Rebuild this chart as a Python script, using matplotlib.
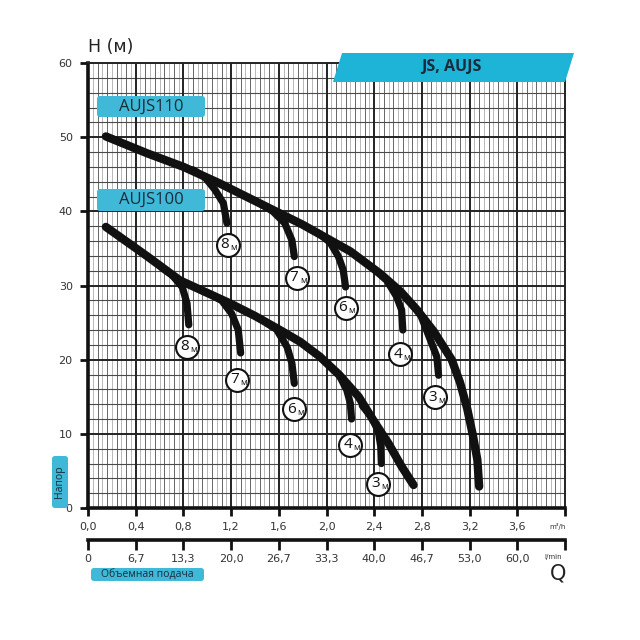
import matplotlib
matplotlib.use("Agg")
import matplotlib.pyplot as plt
import numpy as np
from matplotlib.patches import FancyBboxPatch, Polygon

# ---- data ----
q_ticks = [0.0, 0.4, 0.8, 1.2, 1.6, 2.0, 2.4, 2.8, 3.2, 3.6, 4.0]
q_m3h_labels = ["0,0", "0,4", "0,8", "1,2", "1,6", "2,0", "2,4", "2,8", "3,2", "3,6", ""]
q_lmin_labels = ["0", "6,7", "13,3", "20,0", "26,7", "33,3", "40,0", "46,7", "53,0", "60,0", ""]
h_ticks = [0, 10, 20, 30, 40, 50, 60]

aujs110_q = [0.15, 0.5, 0.8, 1.1, 1.4, 1.6, 1.8, 2.0, 2.2, 2.45, 2.62, 2.76, 2.9,
             3.05, 3.12, 3.18, 3.23, 3.265, 3.28]
aujs110_h = [50.1, 47.8, 46.0, 43.8, 41.4, 39.8, 38.2, 36.4, 34.6, 31.6, 29.2, 26.7, 23.8,
             20.0, 16.9, 13.4, 9.6, 6.5, 2.9]

aujs100_q = [0.15, 0.5, 0.77, 1.0, 1.19, 1.4, 1.61, 1.78, 1.945, 2.11, 2.27, 2.39, 2.52, 2.63, 2.73]
aujs100_h = [37.9, 33.9, 30.7, 29.0, 27.6, 25.9, 24.0, 22.4, 20.4, 17.9, 15.0, 11.9, 8.7, 5.6, 3.1]

# suction depth branches
depth_labels = ["8", "7", "6", "4", "3"]
branch110_q = [[0.88, 0.98, 1.065, 1.135, 1.165],
               [1.45, 1.55, 1.65, 1.71, 1.73],
               [1.93, 2.03, 2.10, 2.14, 2.16],
               [2.40, 2.505, 2.588, 2.63, 2.64],
               [2.70, 2.79, 2.87, 2.925, 2.94]]
branch110_h = [[45.6, 44.6, 42.9, 41.1, 38.4],
               [41.0, 40.0, 38.4, 36.1, 33.9],
               [37.1, 35.8, 33.9, 32.1, 29.8],
               [32.2, 30.7, 28.5, 26.7, 24.0],
               [27.8, 26.0, 22.7, 20.4, 17.9]]
label110_q = [1.17, 1.75, 2.16, 2.62, 2.91]
label110_h = [35.5, 31.0, 27.0, 20.7, 14.9]

branch100_q = [[0.62, 0.70, 0.79, 0.83, 0.845],
               [1.03, 1.12, 1.205, 1.26, 1.28],
               [1.50, 1.58, 1.67, 1.71, 1.73],
               [2.00, 2.10, 2.17, 2.20, 2.21],
               [2.30, 2.38, 2.435, 2.455, 2.46]]
branch100_h = [[32.4, 31.5, 29.8, 27.6, 24.7],
               [28.8, 28.0, 26.2, 24.0, 20.9],
               [24.9, 24.1, 21.7, 19.5, 16.8],
               [19.6, 18.1, 15.9, 14.1, 12.0],
               [13.8, 12.2, 10.3, 8.3, 6.0]]
label100_q = [0.83, 1.25, 1.73, 2.20, 2.435]
label100_h = [21.7, 17.3, 13.3, 8.5, 3.3]

CYAN = "#3fb9d7"
BANNER = "#1db4d7"
NAVY = "#1b2b3c"
INK = "#111111"

W = H = 640.0


def fx(px):
    return px / W


def fy(py):
    return 1 - py / H


fig = plt.figure(figsize=(6.4, 6.4), dpi=100)
fig.patch.set_facecolor("white")
ax = fig.add_axes([fx(88), fy(508), fx(565) - fx(88), fy(63) - fy(508)])
ax.set_xlim(0, 4.0)
ax.set_ylim(0, 60)

# graph-paper grid
for i, q in enumerate(np.arange(0.04, 4.0, 0.04)):
    if i % 10 == 9:
        continue
    c = "#666666" if i % 2 == 1 else "#b8b8b8"
    ax.axvline(q, color=c, lw=0.7, zorder=1)
for h in np.arange(2, 60, 2):
    if h % 10 != 0:
        ax.axhline(h, color="#4a4a4a", lw=0.8, zorder=1)
for q in q_ticks[1:-1]:
    ax.axvline(q, color="#222222", lw=1.4, zorder=2)
for h in h_ticks[1:-1]:
    ax.axhline(h, color="#222222", lw=1.4, zorder=2)

for s in ["top", "right"]:
    ax.spines[s].set_linewidth(1.4)
    ax.spines[s].set_color("#222222")
ax.spines["left"].set_linewidth(2.6)
ax.spines["bottom"].set_linewidth(2.6)
ax.spines["left"].set_color(INK)
ax.spines["bottom"].set_color(INK)

ax.set_xticks(q_ticks)
ax.set_xticklabels(q_m3h_labels)
ax.set_yticks(h_ticks)
ax.set_yticklabels([str(h) for h in h_ticks])
ax.tick_params(axis="both", direction="out", length=6, width=2, color=INK,
               labelsize=8, labelcolor="#333333")
ax.tick_params(axis="x", pad=4)
ax.tick_params(axis="y", pad=5)

line_kw = dict(color=INK, solid_capstyle="round", solid_joinstyle="round", zorder=5)
ax.plot(aujs110_q, aujs110_h, lw=6, **line_kw)
ax.plot(aujs100_q, aujs100_h, lw=6, **line_kw)
for bq, bh in zip(branch110_q + branch100_q, branch110_h + branch100_h):
    ax.plot(bq, bh, lw=5.2, **line_kw)

for lq, lh, lab in zip(label110_q + label100_q, label110_h + label100_h, depth_labels * 2):
    ax.plot(lq, lh, marker="o", ms=16.5, mfc="white", mec=INK, mew=1.5, zorder=7)
    ax.annotate(lab, (lq, lh), xytext=(-2.0, 0.2), textcoords="offset points",
                ha="center", va="center", fontsize=11, color=INK,
                family="Open Sans", zorder=8)
    ax.annotate("м", (lq, lh), xytext=(4.6, -2.0), textcoords="offset points",
                ha="center", va="center", fontsize=6.5, color=INK,
                family="Open Sans", zorder=8)

# second flow axis in l/min
ax2 = fig.add_axes([fx(88), fy(540), fx(565) - fx(88), 0.0001])
ax2.set_xlim(0, 4.0)
for s in ["top", "left", "right"]:
    ax2.spines[s].set_visible(False)
ax2.spines["bottom"].set_linewidth(2.6)
ax2.spines["bottom"].set_color(INK)
ax2.set_yticks([])
ax2.set_xticks(q_ticks)
ax2.set_xticklabels(q_lmin_labels)
ax2.tick_params(axis="x", direction="out", length=7, width=2, color=INK,
                labelsize=8, labelcolor="#333333", pad=3)
ax2.patch.set_visible(False)

fig.text(fx(566), fy(527), "m³/h", ha="right", va="center", fontsize=5, color="#333333")
fig.text(fx(562), fy(557), "l/min", ha="right", va="center", fontsize=5, color="#333333")
fig.text(fx(566), fy(573), "Q", ha="right", va="center", fontsize=15, color="#222222")
fig.text(fx(88), fy(47), "H (м)", ha="left", va="center", fontsize=12.5, color="#222222")


# cyan tags
def tag(x0, y0, x1, y1, text, size, rot=0):
    fig.add_artist(FancyBboxPatch((fx(x0), fy(y1)), fx(x1) - fx(x0), fy(y0) - fy(y1),
                                  boxstyle="round,pad=0,rounding_size=0.005",
                                  transform=fig.transFigure, facecolor=CYAN,
                                  edgecolor="none", zorder=10))
    fig.text(fx((x0 + x1) / 2), fy((y0 + y1) / 2), text, ha="center", va="center",
             fontsize=size, color=NAVY, rotation=rot, family="Open Sans", zorder=11)


tag(97, 96, 205, 117, "AUJS110", 12)
tag(97, 189, 205, 211, "AUJS100", 12)
tag(52, 456, 68, 508, "Напор", 7.5, rot=90)
tag(91, 568, 204, 581, "Объемная подача", 7.5)

fig.add_artist(Polygon([(fx(342), fy(53)), (fx(574), fy(53)), (fx(565), fy(82)), (fx(333), fy(82))],
                       closed=True, transform=fig.transFigure, facecolor=BANNER,
                       edgecolor="none", zorder=10))
fig.text(fx(451), fy(67), "JS, AUJS", ha="center", va="center", fontsize=11.5,
         fontweight="bold", color=NAVY, family="Open Sans", zorder=11)

fig.savefig("out.png", dpi=100, facecolor="white")
